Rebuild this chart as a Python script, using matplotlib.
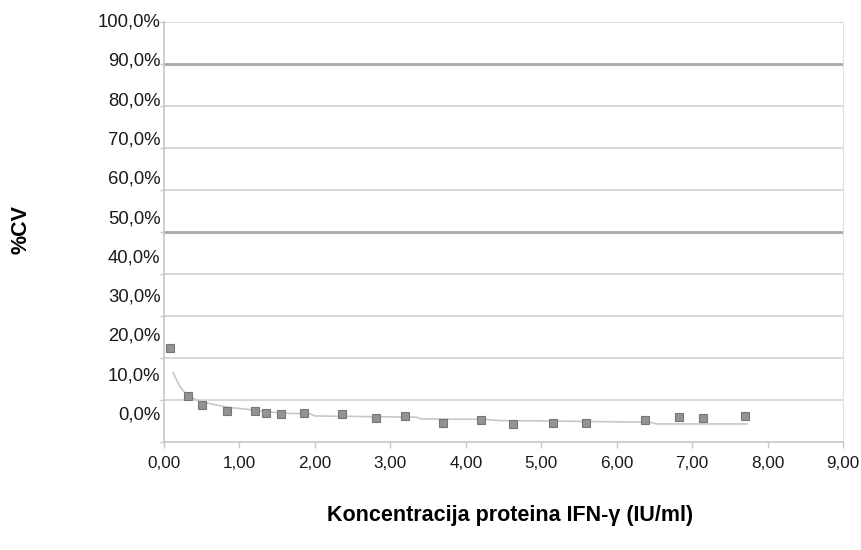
import numpy as np
import matplotlib.pyplot as plt

# izmjerene tocke (koncentracija IU/ml, %CV)
conc = [0.08, 0.32, 0.51, 0.84, 1.20, 1.35, 1.55, 1.85, 2.36, 2.81, 3.19,
        3.70, 4.20, 4.62, 5.15, 5.60, 6.37, 6.83, 7.14, 7.70]
cv = [22.5, 10.9, 8.9, 7.3, 7.3, 6.8, 6.6, 6.8, 6.6, 5.6, 6.1,
      4.5, 5.2, 4.2, 4.6, 4.6, 5.2, 6.0, 5.6, 6.2]

# linija trenda
trend_x = [0.12, 0.21, 0.30, 0.48, 0.83, 1.10, 1.36, 1.67, 1.94, 2.00, 3.35,
           3.40, 4.24, 4.46, 5.12, 6.45, 6.53, 7.73]
trend_y = [16.5, 13.2, 11.2, 9.6, 8.3, 7.8, 7.2, 6.8, 6.7, 6.2, 5.9,
           5.5, 5.4, 5.1, 5.0, 4.7, 4.3, 4.3]

y_ticks = [0, 10, 20, 30, 40, 50, 60, 70, 80, 90, 100]
y_labels = ['0,0%', '10,0%', '20,0%', '30,0%', '40,0%', '50,0%',
            '60,0%', '70,0%', '80,0%', '90,0%', '100,0%']
x_ticks = [0, 1, 2, 3, 4, 5, 6, 7, 8, 9]
x_labels = ['0,00', '1,00', '2,00', '3,00', '4,00', '5,00',
            '6,00', '7,00', '8,00', '9,00']

plt.rcParams['font.family'] = ['Liberation Sans', 'DejaVu Sans']

fig = plt.figure(figsize=(8.61, 5.50), dpi=100)
ax = fig.add_axes([164 / 861, 1 - 442 / 550, (843 - 164) / 861, (442 - 22) / 550])

ax.set_xlim(0, 9)
ax.set_ylim(0, 100)

# mreza - 50% i 90% su tamnije
for v in y_ticks:
    if v in (50, 90):
        ax.axhline(v, color='#a8a8a8', linewidth=2.0, zorder=1)
    elif v == 0:
        continue
    else:
        ax.axhline(v, color='#d2d2d2', linewidth=1.2, zorder=1)

ax.plot(trend_x, trend_y, color='#c8c8c8', linewidth=1.2, zorder=2)
ax.plot(conc, cv, linestyle='none', marker='s', markersize=5.5,
        markerfacecolor='#939393', markeredgecolor='#767676',
        markeredgewidth=0.8, zorder=3)

ax.spines['top'].set_visible(False)
ax.spines['right'].set_color('#e2e2e2')
ax.spines['left'].set_color('#c8c8c8')
ax.spines['bottom'].set_color('#c8c8c8')
ax.spines['left'].set_linewidth(1.2)
ax.spines['bottom'].set_linewidth(1.2)

ax.set_xticks(x_ticks)
ax.set_xticklabels(x_labels, fontsize=12.3, color='#1a1a1a')
ax.tick_params(axis='x', length=4, width=1, color='#c8c8c8', pad=6)

# oznake osi y nisu poravnate s mrezom u originalu
ax.set_yticks(y_ticks)
ax.set_yticklabels([])
ax.tick_params(axis='y', length=3, width=1, color='#c8c8c8')
for v, lab in zip(y_ticks, y_labels):
    ypos = 6.4 + v * 0.936
    ax.text(-0.005, ypos, lab, transform=ax.get_yaxis_transform(),
            ha='right', va='center', fontsize=13.3, color='#1a1a1a')

fig.text(21 / 861, 1 - 230 / 550, '%CV', rotation=90, ha='center', va='center',
         fontsize=15.5, fontweight='bold')
fig.text(510 / 861, 1 - 516 / 550, 'Koncentracija proteina IFN-γ (IU/ml)',
         ha='center', va='center', fontsize=15.5, fontweight='bold')

fig.savefig('out.png', dpi=100)
